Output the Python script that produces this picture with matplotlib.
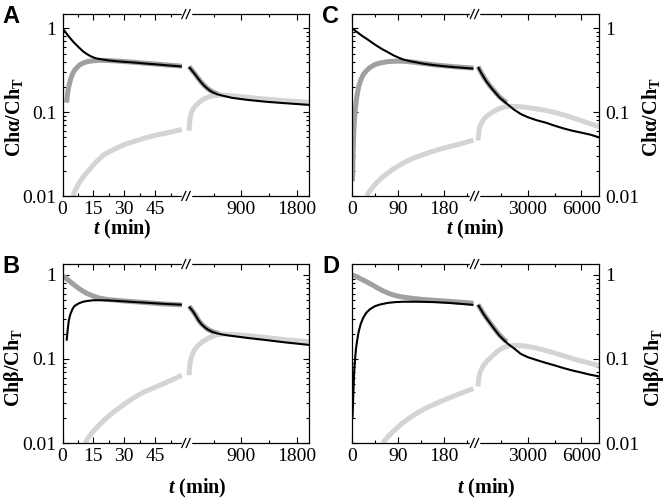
import matplotlib
matplotlib.use("Agg")
import matplotlib.pyplot as plt
from matplotlib.ticker import FixedLocator, FixedFormatter, NullFormatter
from matplotlib.lines import Line2D

# fonts: Times-like serif for numbers and axis labels
plt.rcParams['font.family'] = ['Liberation Serif', 'DejaVu Serif']
plt.rcParams['mathtext.fontset'] = 'custom'
plt.rcParams['mathtext.rm'] = 'Liberation Serif:bold'
plt.rcParams['mathtext.it'] = 'Liberation Serif:italic:bold'
plt.rcParams['mathtext.bf'] = 'Liberation Serif:bold'

# ---------------- data ----------------
# segment 1 = left part of the broken axis, segment 2 = right part

# panel A (Chalpha, short run)
A_blk_t1 = [0, 1, 2, 3, 4, 5, 6, 8, 10, 12, 14, 16, 18, 22, 26, 30, 35, 40, 45, 50, 55, 58]
A_blk_v1 = [1.0, 0.93, 0.86, 0.8, 0.75, 0.7, 0.66, 0.59, 0.53, 0.49, 0.46, 0.44, 0.43, 0.415, 0.405, 0.398, 0.39, 0.38, 0.372, 0.363, 0.355, 0.35]
A_dg_t1 = [2, 2.5, 3, 4, 5, 6, 8, 10, 12, 15, 18, 22, 26, 30, 35, 40, 45, 50, 55, 58]
A_dg_v1 = [0.13, 0.17, 0.2, 0.25, 0.29, 0.32, 0.36, 0.385, 0.4, 0.41, 0.415, 0.413, 0.408, 0.401, 0.393, 0.383, 0.375, 0.366, 0.358, 0.353]
A_lg_t1 = [5, 6, 8, 10, 13, 16, 20, 25, 30, 35, 40, 45, 50, 58]
A_lg_v1 = [0.01, 0.0115, 0.0142, 0.0168, 0.0205, 0.025, 0.031, 0.036, 0.041, 0.045, 0.049, 0.053, 0.056, 0.062]
A_blk_t2 = [50, 80, 110, 150, 200, 250, 300, 350, 400, 450, 500, 600, 750, 1000, 1300, 1600, 2000]
A_blk_v2 = [0.345, 0.325, 0.305, 0.28, 0.25, 0.225, 0.205, 0.19, 0.178, 0.17, 0.164, 0.157, 0.148, 0.14, 0.133, 0.128, 0.122]
A_dg_t2 = [50, 80, 110, 150, 200, 250, 300, 350, 400, 450, 500, 550]
A_dg_v2 = [0.35, 0.328, 0.307, 0.282, 0.252, 0.227, 0.207, 0.192, 0.18, 0.172, 0.166, 0.161]
A_lg_t2 = [50, 55, 65, 80, 100, 130, 170, 220, 280, 350, 450, 550, 700, 900, 1200, 1500, 1800, 2000]
A_lg_v2 = [0.06, 0.07, 0.083, 0.095, 0.104, 0.113, 0.122, 0.132, 0.142, 0.15, 0.157, 0.16, 0.158, 0.153, 0.145, 0.139, 0.134, 0.131]

# panel B (Chbeta, short run)
B_blk_t1 = [2, 2.5, 3, 3.5, 4, 5, 6, 8, 10, 12, 15, 18, 22, 26, 30, 35, 40, 45, 50, 55, 58]
B_blk_v1 = [0.165, 0.22, 0.28, 0.32, 0.35, 0.4, 0.43, 0.46, 0.48, 0.49, 0.5, 0.5, 0.498, 0.492, 0.485, 0.476, 0.468, 0.46, 0.452, 0.446, 0.442]
B_dg_t1 = [0.5, 1, 2, 3, 4, 6, 8, 10, 12, 15, 18, 22, 26, 30, 35, 40, 45, 50, 55, 58]
B_dg_v1 = [0.97, 0.95, 0.9, 0.86, 0.82, 0.75, 0.69, 0.64, 0.6, 0.56, 0.53, 0.51, 0.5, 0.49, 0.48, 0.47, 0.46, 0.45, 0.445, 0.44]
B_lg_t1 = [11, 13, 15, 18, 21, 25, 30, 35, 40, 45, 50, 58]
B_lg_v1 = [0.01, 0.012, 0.0138, 0.0165, 0.0195, 0.0235, 0.029, 0.035, 0.041, 0.046, 0.052, 0.064]
B_blk_t2 = [50, 80, 110, 150, 200, 250, 300, 350, 400, 450, 500, 600, 750, 1000, 1300, 1600, 2000]
B_blk_v2 = [0.42, 0.395, 0.37, 0.335, 0.29, 0.26, 0.24, 0.225, 0.215, 0.207, 0.202, 0.195, 0.188, 0.178, 0.168, 0.158, 0.147]
B_dg_t2 = [50, 80, 110, 150, 200, 250, 300, 350, 400, 450, 500, 550]
B_dg_v2 = [0.425, 0.398, 0.372, 0.337, 0.292, 0.262, 0.242, 0.227, 0.217, 0.209, 0.204, 0.2]
B_lg_t2 = [50, 55, 65, 80, 100, 130, 170, 220, 280, 350, 430, 520, 600, 750, 1000, 1300, 1600, 2000]
B_lg_v2 = [0.064, 0.074, 0.088, 0.1, 0.112, 0.125, 0.138, 0.15, 0.163, 0.175, 0.185, 0.195, 0.198, 0.196, 0.19, 0.18, 0.17, 0.16]

# panel C (Chalpha, long run)
C_blk_t1 = [0, 10, 20, 30, 40, 50, 60, 70, 80, 90, 100, 110, 120, 140, 160, 180, 200, 220, 238]
C_blk_v1 = [1.0, 0.9, 0.81, 0.74, 0.67, 0.61, 0.56, 0.52, 0.48, 0.45, 0.425, 0.41, 0.398, 0.378, 0.364, 0.353, 0.344, 0.337, 0.33]
C_dg_t1 = [1, 2, 3, 4, 6, 8, 10, 13, 17, 22, 28, 35, 45, 55, 70, 85, 100, 120, 140, 160, 180, 200, 220, 238]
C_dg_v1 = [0.015, 0.03, 0.05, 0.07, 0.1, 0.13, 0.16, 0.2, 0.24, 0.28, 0.31, 0.34, 0.37, 0.385, 0.4, 0.405, 0.405, 0.395, 0.38, 0.367, 0.357, 0.348, 0.341, 0.335]
C_lg_t1 = [28, 35, 45, 55, 65, 80, 95, 110, 130, 150, 170, 190, 210, 238]
C_lg_v1 = [0.01, 0.0115, 0.0137, 0.0158, 0.0178, 0.0208, 0.0237, 0.0265, 0.0298, 0.0328, 0.0358, 0.0387, 0.0415, 0.0464]
C_blk_t2 = [200, 350, 500, 650, 800, 1000, 1200, 1400, 1600, 1900, 2200, 2600, 3000, 3500, 4000, 4500, 5000, 5500, 6000, 6500, 7000]
C_blk_v2 = [0.345, 0.3, 0.265, 0.235, 0.213, 0.188, 0.168, 0.15, 0.138, 0.122, 0.108, 0.095, 0.087, 0.08, 0.075, 0.069, 0.064, 0.06, 0.057, 0.054, 0.05]
C_dg_t2 = [200, 350, 500, 650, 800, 1000, 1200, 1400, 1600, 1800]
C_dg_v2 = [0.35, 0.303, 0.268, 0.238, 0.215, 0.19, 0.17, 0.152, 0.14, 0.13]
C_lg_t2 = [200, 230, 270, 320, 400, 500, 650, 800, 1000, 1300, 1600, 1900, 2300, 2800, 3400, 4000, 4600, 5200, 5800, 6400, 7000]
C_lg_v2 = [0.046, 0.055, 0.063, 0.069, 0.075, 0.081, 0.088, 0.093, 0.1, 0.108, 0.114, 0.117, 0.117, 0.115, 0.11, 0.105, 0.098, 0.09, 0.082, 0.074, 0.067]

# panel D (Chbeta, long run)
D_blk_t1 = [1, 2, 3, 4, 6, 8, 10, 13, 17, 22, 28, 35, 45, 55, 70, 85, 100, 130, 160, 190, 215, 238]
D_blk_v1 = [0.02, 0.03, 0.045, 0.065, 0.1, 0.135, 0.165, 0.21, 0.26, 0.31, 0.355, 0.39, 0.425, 0.445, 0.465, 0.475, 0.48, 0.48, 0.475, 0.465, 0.452, 0.44]
D_dg_t1 = [0, 10, 20, 30, 40, 50, 60, 70, 80, 90, 100, 120, 140, 160, 180, 200, 220, 238]
D_dg_v1 = [1.0, 0.95, 0.88, 0.82, 0.76, 0.7, 0.65, 0.61, 0.58, 0.56, 0.545, 0.525, 0.51, 0.5, 0.49, 0.48, 0.47, 0.46]
D_lg_t1 = [60, 70, 80, 90, 100, 115, 130, 145, 160, 175, 190, 205, 220, 238]
D_lg_v1 = [0.01, 0.0118, 0.0136, 0.0155, 0.0175, 0.0203, 0.0232, 0.026, 0.0287, 0.0315, 0.0343, 0.0373, 0.0405, 0.0445]
D_blk_t2 = [200, 350, 500, 650, 800, 1000, 1200, 1400, 1600, 1900, 2200, 2600, 3000, 3500, 4000, 4500, 5000, 5500, 6000, 6500, 7000]
D_blk_v2 = [0.44, 0.39, 0.345, 0.31, 0.28, 0.245, 0.215, 0.19, 0.172, 0.15, 0.135, 0.115, 0.105, 0.097, 0.09, 0.084, 0.078, 0.073, 0.069, 0.065, 0.062]
D_dg_t2 = [200, 350, 500, 650, 800, 1000, 1200, 1400, 1600, 1800]
D_dg_v2 = [0.445, 0.393, 0.348, 0.313, 0.283, 0.248, 0.218, 0.193, 0.175, 0.16]
D_lg_t2 = [200, 230, 270, 320, 400, 500, 650, 800, 1000, 1300, 1600, 1900, 2300, 2800, 3400, 4000, 4600, 5200, 5800, 6400, 7000]
D_lg_v2 = [0.047, 0.056, 0.064, 0.07, 0.076, 0.083, 0.092, 0.099, 0.108, 0.124, 0.136, 0.143, 0.145, 0.143, 0.136, 0.126, 0.116, 0.106, 0.097, 0.09, 0.083]

# x ticks of each half
short_ticks1 = [0, 15, 30, 45]
short_minor1 = [7.5, 22.5, 37.5, 52.5]
short_ticks2 = [900, 1800]
short_minor2 = [450, 1350]
long_ticks1 = [0, 90, 180]
long_minor1 = [45, 135, 225]
long_ticks2 = [3000, 6000]
long_minor2 = [1500, 4500]

y_ticks = [0.01, 0.1, 1]
y_labels = ['0.01', '0.1', '1']

ylab_alpha = 'Ch\u03b1/Ch$_\\mathrm{T}$'
ylab_beta = 'Ch\u03b2/Ch$_\\mathrm{T}$'
xlab = '$\\mathit{t}$ (min)'

BLACK = '#000000'
DGRAY = '#a0a0a0'
LGRAY = '#d4d4d4'

W, H = 670, 498
fig = plt.figure(figsize=(W / 100, H / 100), dpi=100)


def box(l, r, top, bot):
    # pixel box -> figure fraction
    return [l / W, 1 - bot / H, (r - l) / W, (bot - top) / H]


def style_axis(ax, ylim, xlim, major, minor):
    ax.set_yscale('log')
    ax.set_ylim(*ylim)
    ax.set_xlim(*xlim)
    ax.xaxis.set_major_locator(FixedLocator(major))
    ax.xaxis.set_minor_locator(FixedLocator(minor))
    ax.yaxis.set_major_locator(FixedLocator(y_ticks))
    ax.yaxis.set_major_formatter(FixedFormatter(y_labels))
    ax.yaxis.set_minor_locator(FixedLocator([k * 10.0 ** e for e in (-2, -1) for k in range(2, 10)]))
    ax.yaxis.set_minor_formatter(NullFormatter())
    ax.tick_params(which='both', direction='in', top=True, bottom=True, width=0.8, labelsize=14)
    ax.tick_params(axis='x', pad=3.5)
    ax.tick_params(axis='y', pad=4.5)
    ax.tick_params(which='major', length=4.5)
    ax.tick_params(which='minor', length=2.5)
    for s in ax.spines.values():
        s.set_linewidth(0.9)


def draw_curves(ax, curves):
    for t, v, col, lw in curves:
        ax.plot(t, v, color=col, lw=lw, solid_capstyle='butt')


def break_marks(x, ys):
    for y in ys:
        fig.add_artist(Line2D([(x - 3.5) / W, (x + 3.5) / W], [1 - y / H] * 2, color='white', lw=2.5))
        for dx in (-2.2, 2.2):
            fig.add_artist(Line2D([(x + dx - 2) / W, (x + dx + 2) / W],
                                  [1 - (y + 4.5) / H, 1 - (y - 4.5) / H], color='black', lw=0.9))


def panel(l, brk, r, top, bot, ylim, xlim1, xlim2, ticks, curves1, curves2, labels_right):
    ax1 = fig.add_axes(box(l, brk, top, bot))
    ax2 = fig.add_axes(box(brk, r, top, bot))
    style_axis(ax1, ylim, xlim1, ticks[0], ticks[1])
    style_axis(ax2, ylim, xlim2, ticks[2], ticks[3])
    ax1.spines['right'].set_visible(False)
    ax2.spines['left'].set_visible(False)
    ax1.tick_params(which='both', left=True, right=False, labelleft=not labels_right)
    ax2.tick_params(which='both', left=False, right=True, labelleft=False, labelright=labels_right)
    draw_curves(ax1, curves1)
    draw_curves(ax2, curves2)
    break_marks(brk, [top, bot])
    return ax1, ax2


short_ticks = (short_ticks1, short_minor1, short_ticks2, short_minor2)
long_ticks = (long_ticks1, long_minor1, long_ticks2, long_minor2)
thin, thick = 1.5, 3.6

# A
panel(62.5, 186, 309, 14, 196, (0.01, 1.48), (0, 60), (0, 2000), short_ticks,
      [(A_dg_t1, A_dg_v1, DGRAY, thick), (A_lg_t1, A_lg_v1, LGRAY, thick), (A_blk_t1, A_blk_v1, BLACK, thin)],
      [(A_dg_t2, A_dg_v2, DGRAY, thick), (A_lg_t2, A_lg_v2, LGRAY, thick), (A_blk_t2, A_blk_v2, BLACK, thin)],
      False)
# B
panel(62.5, 186, 309, 264, 443, (0.01, 1.35), (0, 60), (0, 2000), short_ticks,
      [(B_dg_t1, B_dg_v1, DGRAY, thick), (B_lg_t1, B_lg_v1, LGRAY, thick), (B_blk_t1, B_blk_v1, BLACK, thin)],
      [(B_dg_t2, B_dg_v2, DGRAY, thick), (B_lg_t2, B_lg_v2, LGRAY, thick), (B_blk_t2, B_blk_v2, BLACK, thin)],
      False)
# C
panel(352, 474.5, 599, 14, 196, (0.01, 1.48), (0, 240), (0, 7000), long_ticks,
      [(C_dg_t1, C_dg_v1, DGRAY, thick), (C_lg_t1, C_lg_v1, LGRAY, thick), (C_blk_t1, C_blk_v1, BLACK, thin)],
      [(C_dg_t2, C_dg_v2, DGRAY, thick), (C_lg_t2, C_lg_v2, LGRAY, thick), (C_blk_t2, C_blk_v2, BLACK, thin)],
      True)
# D
panel(352, 474.5, 599, 264, 443, (0.01, 1.35), (0, 240), (0, 7000), long_ticks,
      [(D_dg_t1, D_dg_v1, DGRAY, thick), (D_lg_t1, D_lg_v1, LGRAY, thick), (D_blk_t1, D_blk_v1, BLACK, thin)],
      [(D_dg_t2, D_dg_v2, DGRAY, thick), (D_lg_t2, D_lg_v2, LGRAY, thick), (D_blk_t2, D_blk_v2, BLACK, thin)],
      True)

# panel letters
for letter, x, y in [('A', 2, 5), ('B', 2, 255), ('C', 322, 5), ('D', 322, 255)]:
    fig.text(x / W, 1 - y / H, letter, fontsize=17, fontweight='bold', family='Liberation Sans',
             ha='left', va='top')

# axis labels
for x, y in [(122, 229), (475, 229), (197, 488), (486, 488)]:
    fig.text(x / W, 1 - y / H, xlab, fontsize=14.5, fontweight='bold', ha='center', va='center')
for x, y, s in [(14, 117, ylab_alpha), (14, 367, ylab_beta), (651, 117, ylab_alpha), (654, 367, ylab_beta)]:
    fig.text(x / W, 1 - y / H, s, fontsize=14.5, fontweight='bold', rotation=90, ha='center', va='center')

fig.savefig('out.png', dpi=100)
